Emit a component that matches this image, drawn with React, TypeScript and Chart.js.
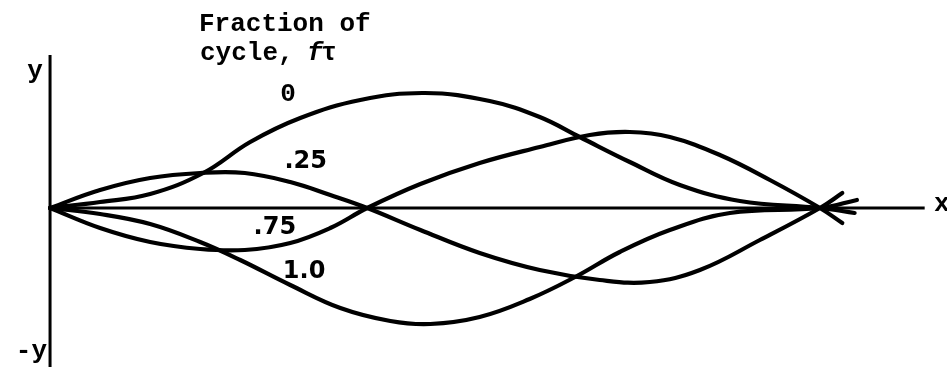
import React, { useEffect, useRef } from "react";
import { Chart, registerables } from "chart.js";

Chart.register(...registerables);

// Position along the string, as a fraction of its length (node at 1.0)
const xCycle0 = [0, 0.065, 0.13, 0.199, 0.26, 0.325, 0.403, 0.487, 0.571, 0.636, 0.688, 0.753, 0.818, 0.896, 1.0, 1.045];
const yCycle0 = [0, 0.06, 0.14, 0.35, 0.66, 0.9, 1.08, 1.15, 1.07, 0.91, 0.71, 0.46, 0.23, 0.07, 0, -0.05];

const xCycle25 = [0, 0.065, 0.13, 0.195, 0.253, 0.312, 0.364, 0.412, 0.481, 0.558, 0.636, 0.714, 0.779, 0.844, 0.922, 1.0, 1.029];
const yCycle25 = [0, 0.18, 0.3, 0.35, 0.35, 0.26, 0.13, 0, -0.22, -0.45, -0.62, -0.72, -0.74, -0.62, -0.32, 0, 0.15];

const xCycle75 = [0, 0.065, 0.13, 0.195, 0.253, 0.312, 0.364, 0.412, 0.481, 0.558, 0.636, 0.701, 0.753, 0.805, 0.87, 0.935, 1.0, 1.029];
const yCycle75 = [0, -0.2, -0.34, -0.41, -0.42, -0.35, -0.2, 0, 0.24, 0.45, 0.61, 0.73, 0.76, 0.71, 0.53, 0.28, 0, -0.15];

const xCycle100 = [0, 0.065, 0.13, 0.195, 0.247, 0.312, 0.377, 0.442, 0.494, 0.558, 0.623, 0.682, 0.74, 0.805, 0.883, 1.0, 1.048];
const yCycle100 = [0, -0.06, -0.16, -0.34, -0.52, -0.77, -1.0, -1.13, -1.16, -1.09, -0.91, -0.69, -0.44, -0.22, -0.05, 0, 0.08];

// Axes extents in data units
const xAxisEnd = 1.136;
const yAxisTop = 1.53;
const yAxisBottom = -1.59;

// Text labels: [text, x, y] in data units
const curveLabels: [string, number, number][] = [
  [".25", 0.332, 0.46],
  [".75", 0.292, -0.2],
  ["1.0", 0.33, -0.64],
];
const zeroLabel: [string, number, number] = ["0", 0.309, 1.14];
const titleLines = ["Fraction of", "cycle, "];

const pts = (xs: number[], ys: number[]) => xs.map((x, i) => ({ x, y: ys[i] }));

export default function App() {
  const ref = useRef<HTMLCanvasElement | null>(null);
  useEffect(() => {
    if (!ref.current) return;
    const curve = (data: { x: number; y: number }[]) => ({
      data,
      borderColor: "#000",
      borderWidth: 4.2,
      pointRadius: 0,
      tension: 0.4,
      borderCapStyle: "round",
      borderJoinStyle: "round",
      fill: false,
    });
    const axis = (data: { x: number; y: number }[]) => ({
      data,
      borderColor: "#000",
      borderWidth: 3,
      pointRadius: 0,
      tension: 0,
      fill: false,
    });
    const labelPlugin = {
      id: "labels",
      afterDatasetsDraw(chart: any) {
        const { ctx, scales } = chart;
        const px = (v: number) => scales.x.getPixelForValue(v);
        const py = (v: number) => scales.y.getPixelForValue(v);
        ctx.save();
        ctx.fillStyle = "#000";
        ctx.textBaseline = "alphabetic";
        const mono = 'bold 26px "Liberation Mono", monospace';
        ctx.font = mono;
        ctx.textAlign = "left";
        ctx.fillText(titleLines[0], 199, 31);
        ctx.fillText(titleLines[1], 200, 60);
        const w = ctx.measureText(titleLines[1]).width;
        ctx.font = 'italic bold 26px "Liberation Mono", monospace';
        ctx.fillText("f", 200 + w - 2, 60);
        ctx.font = mono;
        ctx.fillText("τ", 200 + w + 12, 60);
        // axis labels
        ctx.textAlign = "center";
        ctx.fillText("y", 35, 78);
        ctx.textAlign = "right";
        ctx.fillText("-y", 47, 358);
        ctx.textAlign = "left";
        ctx.fillText("x", 934, 211);
        // zero label
        ctx.textAlign = "center";
        ctx.textBaseline = "middle";
        ctx.fillText(zeroLabel[0], px(zeroLabel[1]), py(zeroLabel[2]));
        ctx.font = 'bold 24px "DejaVu Sans", sans-serif';
        for (const [t, x, y] of curveLabels) ctx.fillText(t, px(x), py(y));
        ctx.restore();
      },
    };
    const chart = new Chart(ref.current, {
      type: "line",
      data: {
        datasets: [
          axis([{ x: 0, y: yAxisTop }, { x: 0, y: yAxisBottom }]),
          axis([{ x: 0, y: 0 }, { x: xAxisEnd, y: 0 }]),
          curve(pts(xCycle0, yCycle0)),
          curve(pts(xCycle25, yCycle25)),
          curve(pts(xCycle75, yCycle75)),
          curve(pts(xCycle100, yCycle100)),
        ] as any,
      },
      options: {
        animation: false,
        responsive: true,
        maintainAspectRatio: false,
        layout: { padding: 0 },
        parsing: false as any,
        scales: {
          x: { type: "linear", min: -0.065, max: 1.165, display: false },
          y: { type: "linear", min: -1.6, max: 2.08, display: false },
        },
        plugins: { legend: { display: false }, tooltip: { enabled: false } },
      },
      plugins: [labelPlugin],
    });
    return () => chart.destroy();
  }, []);
  return (
    <div style={{ position: "absolute", left: 0, top: 0, width: 947, height: 368, background: "#fff" }}>
      <canvas ref={ref} />
    </div>
  );
}
